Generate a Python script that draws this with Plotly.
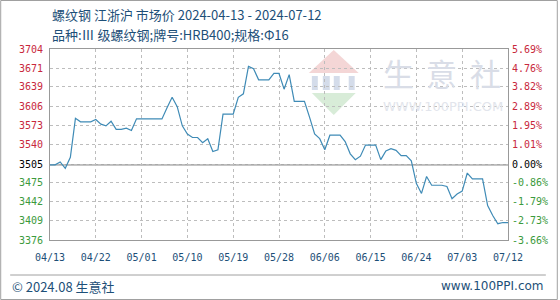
import plotly.graph_objects as go
import pandas as pd

# ---- data ----
start_date = "2024-04-13"
end_date = "2024-07-12"
prices = [
    3505, 3505, 3510, 3499, 3518, 3585, 3579, 3579, 3579, 3583,
    3575, 3572, 3580, 3566, 3566, 3568, 3564, 3584, 3584, 3584,
    3584, 3584, 3584, 3603, 3621, 3605, 3572, 3558, 3552, 3552,
    3543, 3550, 3528, 3531, 3592, 3592, 3592, 3621, 3627, 3674,
    3670, 3651, 3651, 3651, 3662, 3662, 3635, 3660, 3614, 3614,
    3614, 3587, 3558, 3550, 3531, 3556, 3556, 3556, 3545, 3524,
    3514, 3520, 3539, 3539, 3539, 3514, 3529, 3533, 3530, 3521,
    3521, 3512, 3473, 3456, 3485, 3470, 3470, 3470, 3468, 3447,
    3455, 3460, 3491, 3481, 3481, 3481, 3435, 3418, 3404, 3406,
    3406,
]
dates = pd.date_range(start_date, end_date, freq="D")

x_tick_dates = ["2024-04-13", "2024-04-22", "2024-05-01", "2024-05-10", "2024-05-19",
                "2024-05-28", "2024-06-06", "2024-06-15", "2024-06-24", "2024-07-03",
                "2024-07-12"]
x_tick_labels = ["04/13", "04/22", "05/01", "05/10", "05/19", "05/28",
                 "06/06", "06/15", "06/24", "07/03", "07/12"]

base_price = 3505
y_ticks = [3704, 3671, 3639, 3606, 3573, 3540, 3505, 3475, 3442, 3409, 3376]
pct_labels = ["5.69%", "4.76%", "3.82%", "2.89%", "1.95%", "1.01%", "0.00%",
              "-0.86%", "-1.79%", "-2.73%", "-3.66%"]
y_range = [3376, 3704]

title_line1 = "螺纹钢 江浙沪 市场价 2024-04-13 - 2024-07-12"
title_line2 = "品种:Ⅲ 级螺纹钢;牌号:HRB400;规格:Φ16"
footer_left = "© 2024.08 生意社"
footer_right = "www.100PPI.com"
watermark_chars = ["生", "意", "社"]
watermark_url = "WWW.100PPI.COM"

# ---- styling ----
RED = "#c8283c"
GREEN = "#3c9a3c"
BLACK = "#000000"
NAVY = "#1d4f78"
LINE = "#3f8bb6"
GRID = "#bdbdbd"
FRAME = "#999999"
MONO = "DejaVu Sans Mono"
CJK = "Noto Sans CJK SC"

def colored(v, label):
    c = RED if v > base_price else (GREEN if v < base_price else BLACK)
    return f'<span style="color:{c}">{label}</span>'

left_text = [colored(v, str(v)) for v in y_ticks]
right_text = [colored(v, p) for v, p in zip(y_ticks, pct_labels)]

W, H = 560, 300
L, R, T, B = 50, 510, 49, 240

def px(x):
    return (x - L) / (R - L)

def py(y):
    return (B - y) / (B - T)

fig = go.Figure()
fig.add_trace(go.Scatter(x=dates, y=prices, mode="lines",
                         line=dict(color=LINE, width=1.2), showlegend=False))
# invisible trace to activate the right axis
fig.add_trace(go.Scatter(x=[dates[0]], y=[base_price], yaxis="y2", mode="markers",
                         marker=dict(opacity=0), showlegend=False, hoverinfo="skip"))

fig.update_layout(
    width=W, height=H,
    margin=dict(l=L, r=W - R, t=T, b=H - B),
    paper_bgcolor="white", plot_bgcolor="white",
    xaxis=dict(
        type="date",
        range=[start_date, end_date],
        tickvals=x_tick_dates, ticktext=x_tick_labels,
        tickfont=dict(family=MONO, size=10, color=NAVY),
        showgrid=True, gridcolor=GRID, griddash="dot", gridwidth=1,
        showline=True, linecolor=FRAME, mirror=True, linewidth=1,
        ticks="", ticklabelstandoff=8,
        zeroline=False,
    ),
    yaxis=dict(
        range=y_range, tickvals=y_ticks, ticktext=left_text,
        tickfont=dict(family=MONO, size=10),
        showgrid=True, gridcolor=GRID, griddash="dot", gridwidth=1,
        showline=True, linecolor=FRAME, mirror=True, linewidth=1,
        ticks="", ticklabelstandoff=4, zeroline=False,
    ),
    yaxis2=dict(
        range=y_range, tickvals=y_ticks, ticktext=right_text,
        tickfont=dict(family=MONO, size=10),
        overlaying="y", side="right", showgrid=False, zeroline=False,
        ticks="", ticklabelstandoff=3,
    ),
)

shapes = []
# zero (base price) line
shapes.append(dict(type="line", xref="paper", yref="y", x0=0, x1=1,
                   y0=base_price, y1=base_price, line=dict(color="#8c8c8c", width=1.2),
                   layer="below"))
# outer border
shapes.append(dict(type="rect", xref="paper", yref="paper",
                   x0=px(0.5), x1=px(559.5), y0=py(299.5), y1=py(0.5),
                   line=dict(color="#a0a0a0", width=1)))
# footer separator
shapes.append(dict(type="line", xref="paper", yref="paper",
                   x0=px(10), x1=px(548), y0=py(275), y1=py(275),
                   line=dict(color="#a0a0a0", width=1)))
# watermark logo: diamond top (red) and bottom (green)
shapes.append(dict(type="path", xref="paper", yref="paper",
                   path=f"M {px(310)},{py(73)} L {px(335)},{py(50)} L {px(360)},{py(73)} Z",
                   fillcolor="#f4d6d6", line=dict(width=0), layer="below"))
shapes.append(dict(type="path", xref="paper", yref="paper",
                   path=f"M {px(313)},{py(93)} L {px(357)},{py(93)} L {px(335)},{py(115)} Z",
                   fillcolor="#d8ecd8", line=dict(width=0), layer="below"))
for bx0, bx1 in [(313, 319), (324, 331), (335, 341), (350, 356)]:
    shapes.append(dict(type="rect", xref="paper", yref="paper",
                       x0=px(bx0), x1=px(bx1), y0=py(90), y1=py(76),
                       fillcolor="#d4dcea", line=dict(width=0), layer="below"))
fig.update_layout(shapes=shapes)

ann = []
ann.append(dict(text=title_line1, x=px(50), y=py(15), xref="paper", yref="paper",
                xanchor="left", yanchor="middle", showarrow=False,
                font=dict(family=CJK, size=13, color=NAVY)))
ann.append(dict(text=title_line2, x=px(50), y=py(34), xref="paper", yref="paper",
                xanchor="left", yanchor="middle", showarrow=False,
                font=dict(family=CJK, size=13, color=NAVY)))
ann.append(dict(text=footer_left, x=px(10), y=py(286), xref="paper", yref="paper",
                xanchor="left", yanchor="middle", showarrow=False,
                font=dict(family=CJK, size=13, color=NAVY)))
ann.append(dict(text=footer_right, x=px(548), y=py(286), xref="paper", yref="paper",
                xanchor="right", yanchor="middle", showarrow=False,
                font=dict(family="DejaVu Sans", size=12, color=NAVY)))
# watermark texts
for ch, cx in zip(watermark_chars, [400, 443, 487]):
    ann.append(dict(text=ch, x=px(cx), y=py(72), xref="paper", yref="paper",
                    xanchor="center", yanchor="middle", showarrow=False,
                    font=dict(family=CJK, size=31, color="#d9dde7")))
ann.append(dict(text=watermark_url, x=px(445), y=py(106), xref="paper", yref="paper",
                xanchor="center", yanchor="middle", showarrow=False,
                font=dict(family="DejaVu Sans", size=13, color="#e2e5ec")))
fig.update_layout(annotations=ann)

fig.write_html("out.html")
